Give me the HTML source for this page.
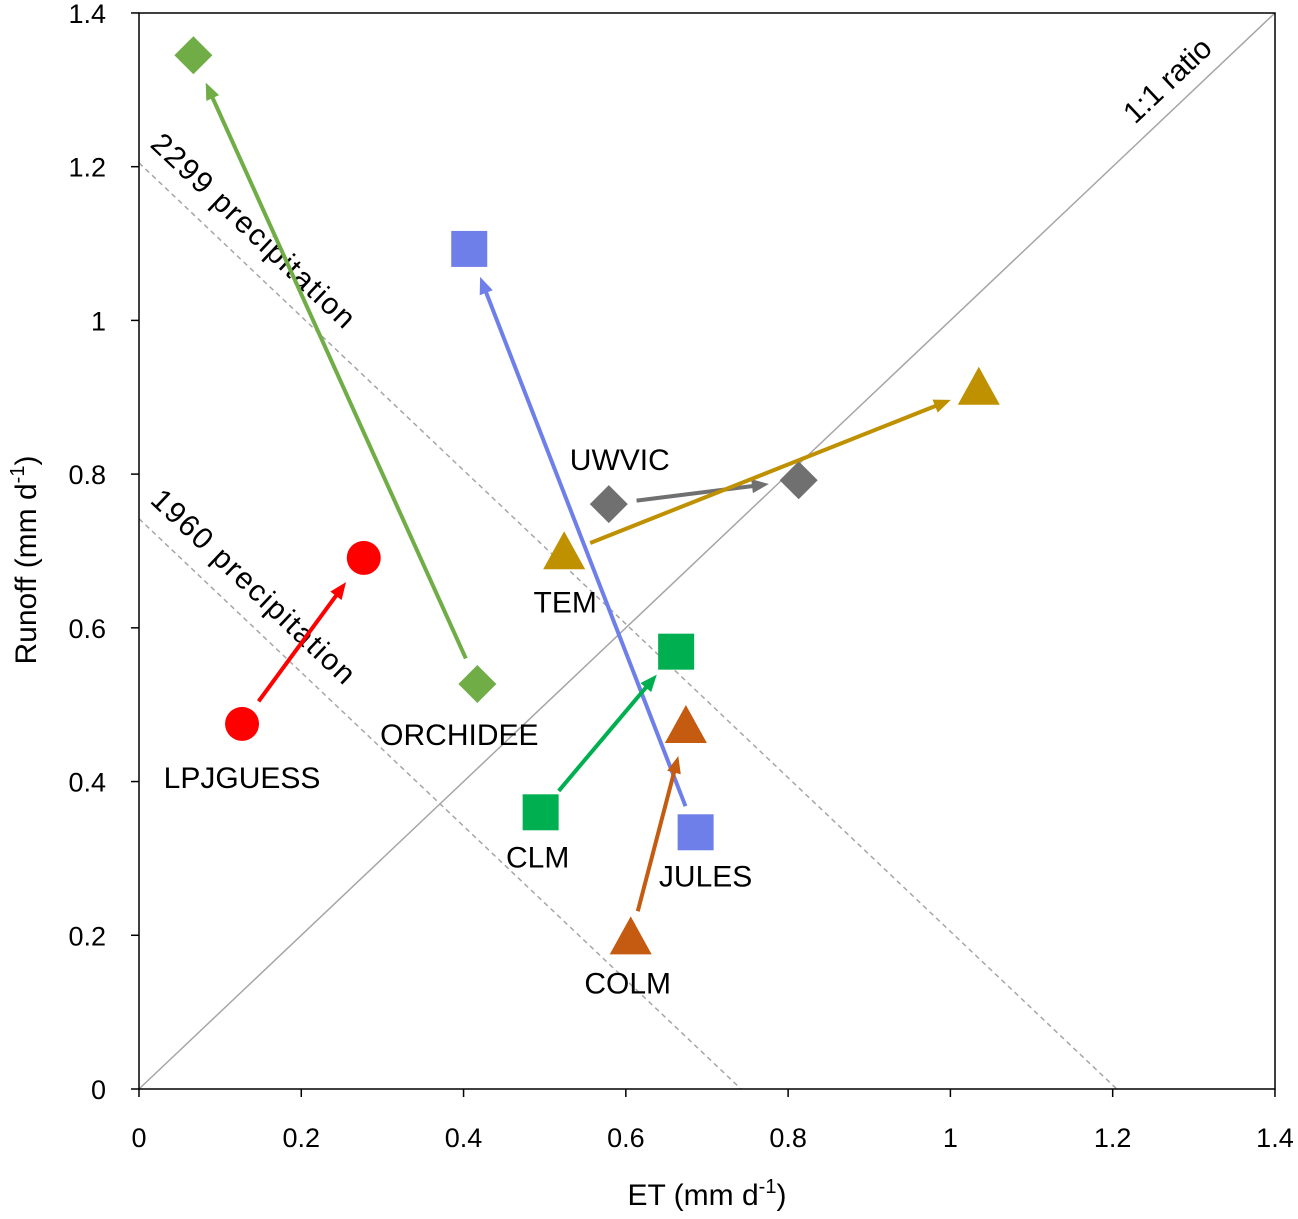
<!DOCTYPE html>
<html><head><meta charset="utf-8"><style>
body{margin:0;background:#fff}
svg text{font-family:"Liberation Sans",sans-serif;fill:#000}
</style></head><body>
<svg id="chart" width="1298" height="1214" xmlns="http://www.w3.org/2000/svg">
<defs id="defs"></defs>
<g id="g"></g>
</svg>
<script>
const models=["LPJGUESS","ORCHIDEE","JULES","UWVIC","TEM","CLM","COLM"];
const et1960=[0.127,0.417,0.686,0.579,0.524,0.495,0.606];
const ro1960=[0.475,0.527,0.334,0.761,0.697,0.360,0.196];
const et2299=[0.277,0.067,0.407,0.813,1.035,0.662,0.674];
const ro2299=[0.691,1.345,1.093,0.792,0.911,0.569,0.471];
const colors=["#ff0000","#70ad47","#6f7fea","#707070","#bf9000","#00b050","#c55a11"];
const shapes=["circle","diamond","square","diamond","triangle","square","triangle"];
const labelOffsets=[[0,54],[-18,51],[10,44],[11,-44],[1,49],[-3,45],[-3,45]];
const precip=[0.742,1.205];
const precipLabels=["1960 precipitation","2299 precipitation"];
const ticks=[0,0.2,0.4,0.6,0.8,1,1.2,1.4];
const tickLabels=["0","0.2","0.4","0.6","0.8","1","1.2","1.4"];

const X=v=>139+v*811.4, Y=v=>1089-v*768.6;
const g=document.getElementById('g');
const defs=document.getElementById('defs');
const NS="http://www.w3.org/2000/svg";
function mk(t,a,txt,parent){const e=document.createElementNS(NS,t);for(const k in a)e.setAttribute(k,a[k]);if(txt!==undefined)e.textContent=txt;(parent||g).appendChild(e);return e;}

let e=mk('line',{x1:X(0),y1:Y(0),x2:X(1.4),y2:Y(1.4),stroke:'#a6a6a6','stroke-width':1.5});


e=mk('text',{x:0,y:0,'font-size':30,transform:`translate(1135,125) rotate(-43.4)`},'1:1 ratio');


precip.forEach((p,i)=>{
  let l=mk('line',{x1:X(0),y1:Y(p),x2:X(p),y2:Y(0),stroke:'#a6a6a6','stroke-width':1.5,'stroke-dasharray':'5,4'});
  
  
  let t=mk('text',{x:0,y:0,'font-size':30,'textLength':268,transform:`translate(${X(0)+10},${Y(p)-17}) rotate(43.4)`},precipLabels[i]);
  
  
});
e=mk('rect',{x:139,y:13,width:1136,height:1076,fill:'none',stroke:'#000','stroke-width':1.5});


ticks.forEach((v,i)=>{
  mk('line',{x1:X(v),y1:1089,x2:X(v),y2:1097,stroke:'#000','stroke-width':1.5});
  mk('line',{x1:131,y1:Y(v),x2:139,y2:Y(v),stroke:'#000','stroke-width':1.5});
  let a=mk('text',{x:X(v),y:1147,'font-size':27,'text-anchor':'middle'},tickLabels[i]);
  
  
  let b=mk('text',{x:106,y:Y(v)+10,'font-size':27,'text-anchor':'end'},tickLabels[i]);
  
  
});
e=mk('text',{x:707,y:1205,'font-size':30,'text-anchor':'middle'});
e.innerHTML='ET (mm d<tspan dy="-12" font-size="20">-1</tspan><tspan dy="12">)</tspan>';


e=mk('text',{x:0,y:0,'font-size':30,'text-anchor':'middle',transform:'translate(36,560) rotate(-90)'});
e.innerHTML='Runoff (mm d<tspan dy="-12" font-size="20">-1</tspan><tspan dy="12">)</tspan>';



function marker(shape,cx,cy,c,name){
  let m;
  if(shape==='circle')m=mk('circle',{cx,cy,r:17,fill:c});
  else if(shape==='square')m=mk('rect',{x:cx-18,y:cy-18,width:36,height:36,fill:c});
  else if(shape==='diamond')m=mk('path',{d:`M${cx},${cy-19}L${cx+19},${cy}L${cx},${cy+19}L${cx-19},${cy}Z`,fill:c});
  else m=mk('path',{d:`M${cx},${cy-22}L${cx+21},${cy+16}L${cx-21},${cy+16}Z`,fill:c});
  
  
}
models.forEach((m,i)=>{
  const x1=X(et1960[i]),y1=Y(ro1960[i]),x2=X(et2299[i]),y2=Y(ro2299[i]);
  const dx=x2-x1,dy=y2-y1,L=Math.hypot(dx,dy),ux=dx/L,uy=dy/L,px=-uy,py=ux;
  const sx=x1+ux*28,sy=y1+uy*28,ex=x2-ux*30,ey=y2-uy*30;
  const bx=ex-ux*17,by=ey-uy*17;
  let a=mk('line',{x1:sx,y1:sy,x2:bx+ux*2,y2:by+uy*2,stroke:colors[i],'stroke-width':4});
  
  
  let h=mk('path',{d:`M${ex},${ey}L${bx+px*7},${by+py*7}L${bx-px*7},${by-py*7}Z`,fill:colors[i]});
  
  
  marker(shapes[i],x1,y1,colors[i],m.toLowerCase()+'-1960-point');
  marker(shapes[i],x2,y2,colors[i],m.toLowerCase()+'-2299-point');
  let t=mk('text',{x:x1+labelOffsets[i][0],y:y1+labelOffsets[i][1]+10,'font-size':30,'text-anchor':'middle'},m);
  
  
});
</script>
</body></html>
